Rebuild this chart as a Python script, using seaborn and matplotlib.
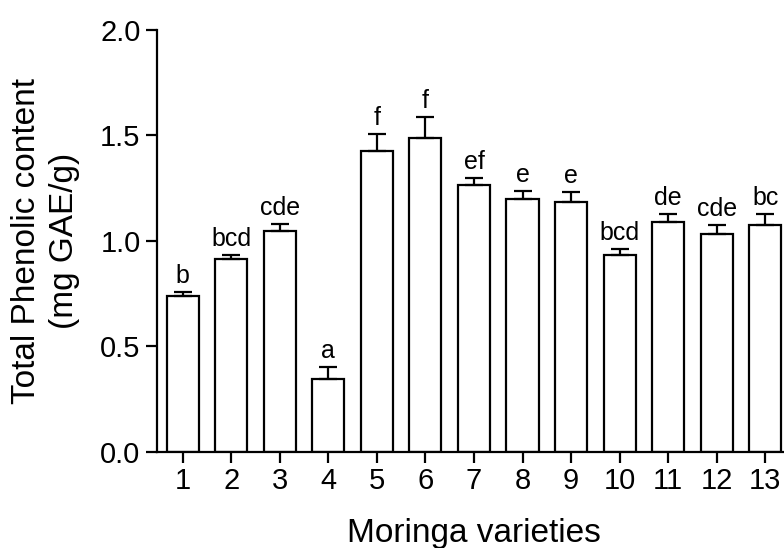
import numpy as np
import pandas as pd
import matplotlib
matplotlib.use("Agg")
import matplotlib.pyplot as plt
import seaborn as sns

varieties = ["1", "2", "3", "4", "5", "6", "7", "8", "9", "10", "11", "12", "13"]
means = [0.740, 0.915, 1.047, 0.347, 1.428, 1.490, 1.265, 1.199, 1.183, 0.935, 1.092, 1.032, 1.076]
errors = [0.017, 0.018, 0.033, 0.057, 0.078, 0.098, 0.032, 0.038, 0.051, 0.027, 0.036, 0.042, 0.050]
letters = ["b", "bcd", "cde", "a", "f", "f", "ef", "e", "e", "bcd", "de", "cde", "bc"]

sns.set_style("ticks")
plt.rcParams["font.family"] = ["Liberation Sans", "DejaVu Sans"]
plt.rcParams["text.color"] = "black"
plt.rcParams["axes.labelcolor"] = "black"
plt.rcParams["xtick.color"] = "black"
plt.rcParams["ytick.color"] = "black"

df = pd.DataFrame({"variety": varieties, "tpc": means})

fig = plt.figure(figsize=(7.84, 5.48), dpi=100)
ax = fig.add_axes([0.2006, 0.1752, 0.8079, 0.7701])

sns.barplot(data=df, x="variety", y="tpc", color="white", edgecolor="black",
            linewidth=1.6, width=0.66, errorbar=None, ax=ax, zorder=2)

xpos = np.arange(len(varieties))
ax.errorbar(xpos, means, yerr=[np.zeros(len(errors)), errors], fmt="none",
            ecolor="black", elinewidth=1.6, capsize=6.25, capthick=1.6, zorder=3)

for x, m, e, lab in zip(xpos, means, errors, letters):
    ax.annotate(lab, (x, m + e), xytext=(0, 6.5), textcoords="offset points",
                ha="center", va="baseline", fontsize=18, color="black",
                annotation_clip=False)

ax.set_xlim(-0.523, 12.523)
ax.set_ylim(0, 2.0)
ax.set_yticks([0.0, 0.5, 1.0, 1.5, 2.0])
ax.set_yticklabels(["0.0", "0.5", "1.0", "1.5", "2.0"])

sns.despine(ax=ax)
for side in ["left", "bottom"]:
    ax.spines[side].set_linewidth(1.6)
    ax.spines[side].set_color("black")

ax.tick_params(axis="both", direction="out", length=8, width=1.6, color="black",
               labelsize=21, labelcolor="black")
ax.tick_params(axis="x", pad=3)
ax.tick_params(axis="y", pad=4)

ax.set_xlabel("Moringa varieties", fontsize=24, color="black")
ax.xaxis.label.set_va("baseline")
ax.xaxis.set_label_coords(0.5, -0.2126)

ax.set_ylabel("Total Phenolic content\n(mg GAE/g)", fontsize=24, linespacing=1.3,
              color="black")
ax.yaxis.label.set_va("center")
ax.yaxis.set_label_coords(-0.1767, 0.5)

fig.savefig("out.png", dpi=100)
